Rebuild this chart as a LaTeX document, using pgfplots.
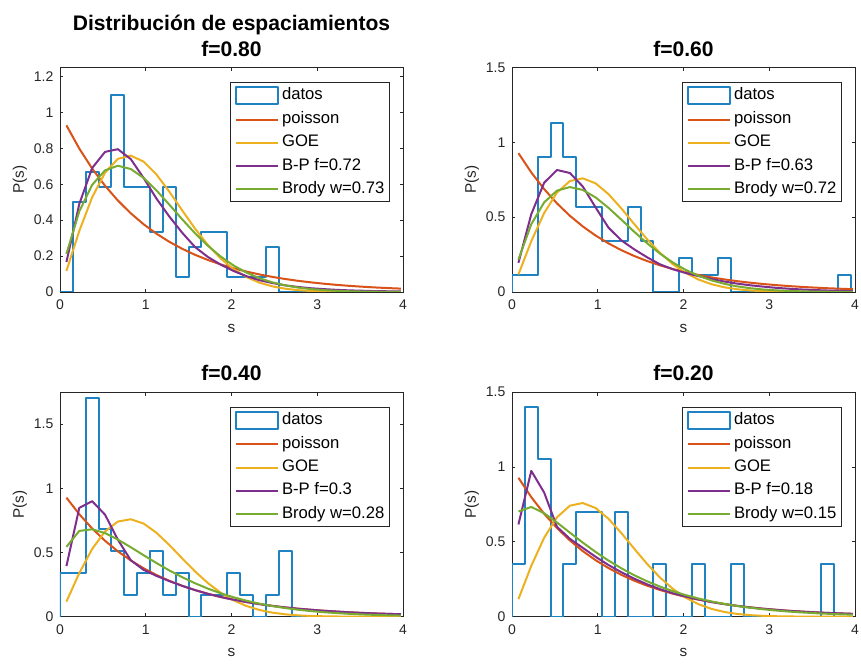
\documentclass[border=0pt]{standalone}
\usepackage{fontspec}
\setmainfont{Liberation Sans}
\usepackage{pgfplots}
\usepackage{pgfplotstable}
\pgfplotsset{compat=1.18}

\definecolor{mblue}{RGB}{30,130,195}
\definecolor{morange}{RGB}{217,83,25}
\definecolor{myellow}{RGB}{237,177,32}
\definecolor{mpurple}{RGB}{126,47,142}
\definecolor{mgreen}{RGB}{119,172,48}
\definecolor{axgray}{RGB}{38,38,38}

% curves evaluated at the bin centres: s, poisson, GOE, B-P, Brody
\pgfplotstableread{
s     poi    goe    bp     brody
0.075 0.9277 0.1173 0.167  0.2121
0.225 0.7985 0.3397 0.49   0.4487
0.375 0.6873 0.5275 0.69   0.5965
0.525 0.5916 0.6641 0.78   0.6771
0.675 0.5092 0.7413 0.795  0.7029
0.825 0.4382 0.7593 0.74   0.6847
0.975 0.3772 0.7259 0.635  0.6353
1.125 0.3247 0.6540 0.52   0.5657
1.275 0.2794 0.5586 0.42   0.4862
1.425 0.2405 0.4543 0.33   0.4047
1.575 0.2070 0.3527 0.25   0.3268
1.725 0.1782 0.2618 0.195  0.2572
1.875 0.1534 0.1862 0.152  0.1970
2.025 0.1320 0.1270 0.117  0.1474
2.175 0.1136 0.0832 0.088  0.1078
2.325 0.0978 0.0523 0.066  0.0771
2.475 0.0842 0.0316 0.050  0.0539
2.625 0.0724 0.0184 0.037  0.0369
2.775 0.0623 0.0103 0.028  0.0248
2.925 0.0537 0.0055 0.021  0.0163
3.075 0.0462 0.0029 0.016  0.0105
3.225 0.0397 0.0014 0.012  0.0067
3.375 0.0342 0.0007 0.009  0.0041
3.525 0.0295 0.0003 0.007  0.0025
3.675 0.0253 0.0001 0.005  0.0015
3.825 0.0218 0.0001 0.004  0.0009
3.975 0.0188 0.0000 0.003  0.0005
}\fa
\pgfplotstableread{
s     poi    goe    bp     brody
0.075 0.9277 0.1173 0.195  0.2167
0.225 0.7985 0.3397 0.52   0.4530
0.375 0.6873 0.5275 0.73   0.5988
0.525 0.5916 0.6641 0.815  0.6772
0.675 0.5092 0.7413 0.795  0.7010
0.825 0.4382 0.7593 0.705  0.6818
0.975 0.3772 0.7259 0.565  0.6319
1.125 0.3247 0.6540 0.43   0.5624
1.275 0.2794 0.5586 0.345  0.4834
1.425 0.2405 0.4543 0.285  0.4025
1.575 0.2070 0.3527 0.232  0.3258
1.725 0.1782 0.2618 0.185  0.2568
1.875 0.1534 0.1862 0.152  0.1972
2.025 0.1320 0.1270 0.127  0.1479
2.175 0.1136 0.0832 0.106  0.1085
2.325 0.0978 0.0523 0.087  0.0778
2.475 0.0842 0.0316 0.070  0.0548
2.625 0.0724 0.0184 0.056  0.0377
2.775 0.0623 0.0103 0.045  0.0255
2.925 0.0537 0.0055 0.036  0.0169
3.075 0.0462 0.0029 0.028  0.0110
3.225 0.0397 0.0014 0.022  0.0070
3.375 0.0342 0.0007 0.017  0.0044
3.525 0.0295 0.0003 0.013  0.0027
3.675 0.0253 0.0001 0.010  0.0017
3.825 0.0218 0.0001 0.008  0.0010
3.975 0.0188 0.0000 0.006  0.0006
}\fb
\pgfplotstableread{
s     poi    goe    bp     brody
0.075 0.9277 0.1173 0.394  0.5438
0.225 0.7985 0.3397 0.848  0.6683
0.375 0.6873 0.5275 0.90   0.6812
0.525 0.5916 0.6641 0.795  0.6513
0.675 0.5092 0.7413 0.60   0.6009
0.825 0.4382 0.7593 0.44   0.5413
0.975 0.3772 0.7259 0.365  0.4790
1.125 0.3247 0.6540 0.318  0.4180
1.275 0.2794 0.5586 0.277  0.3604
1.425 0.2405 0.4543 0.240  0.3077
1.575 0.2070 0.3527 0.207  0.2604
1.725 0.1782 0.2618 0.178  0.2186
1.875 0.1534 0.1862 0.153  0.1821
2.025 0.1320 0.1270 0.132  0.1509
2.175 0.1136 0.0832 0.114  0.1242
2.325 0.0978 0.0523 0.098  0.1017
2.475 0.0842 0.0316 0.084  0.0829
2.625 0.0724 0.0184 0.072  0.0672
2.775 0.0623 0.0103 0.062  0.0542
2.925 0.0537 0.0055 0.054  0.0436
3.075 0.0462 0.0029 0.046  0.0349
3.225 0.0397 0.0014 0.040  0.0278
3.375 0.0342 0.0007 0.034  0.0221
3.525 0.0295 0.0003 0.029  0.0175
3.675 0.0253 0.0001 0.025  0.0138
3.825 0.0218 0.0001 0.022  0.0108
3.975 0.0188 0.0000 0.019  0.0085
}\fc
\pgfplotstableread{
s     poi    goe    bp     brody
0.075 0.9277 0.1173 0.616  0.7024
0.225 0.7985 0.3397 0.974  0.7331
0.375 0.6873 0.5275 0.829  0.6909
0.525 0.5916 0.6641 0.60   0.6289
0.675 0.5092 0.7413 0.52   0.5615
0.825 0.4382 0.7593 0.46   0.4951
0.975 0.3772 0.7259 0.40   0.4324
1.125 0.3247 0.6540 0.345  0.3749
1.275 0.2794 0.5586 0.297  0.3232
1.425 0.2405 0.4543 0.254  0.2770
1.575 0.2070 0.3527 0.216  0.2364
1.725 0.1782 0.2618 0.184  0.2011
1.875 0.1534 0.1862 0.157  0.1704
2.025 0.1320 0.1270 0.134  0.1440
2.175 0.1136 0.0832 0.115  0.1213
2.325 0.0978 0.0523 0.098  0.1019
2.475 0.0842 0.0316 0.084  0.0854
2.625 0.0724 0.0184 0.072  0.0714
2.775 0.0623 0.0103 0.062  0.0597
2.925 0.0537 0.0055 0.053  0.0497
3.075 0.0462 0.0029 0.046  0.0413
3.225 0.0397 0.0014 0.039  0.0343
3.375 0.0342 0.0007 0.034  0.0284
3.525 0.0295 0.0003 0.029  0.0235
3.675 0.0253 0.0001 0.025  0.0194
3.825 0.0218 0.0001 0.022  0.0160
3.975 0.0188 0.0000 0.019  0.0132
}\fd

\tikzset{ttl/.style={anchor=base, font=\bfseries\fontsize{15.8}{19}\selectfont}}

\pgfplotsset{
  mat/.style={
    scale only axis, width=257.25pt, height=168.4pt,
    xmin=0, xmax=4, ymin=0, xtick={0,1,2,3,4},
    tick align=inside, tick pos=both, major tick length=2.6pt,
    axis line style={draw=axgray, line width=0.6pt},
    every tick/.style={draw=axgray, line width=0.6pt},
    tick label style={font=\fontsize{10.5}{12}\selectfont, text=axgray},
    /pgf/number format/assume math mode=true,
    xticklabel style={yshift=-2.5pt},
    yticklabel style={xshift=-1.5pt},
    xlabel={s}, ylabel={P(s)},
    label style={font=\fontsize{11.5}{13}\selectfont, text=axgray},
    xlabel style={at={(axis description cs:0.5,-0.1603)}, anchor=center},
    ylabel style={at={(axis description cs:-0.1166,0.5)}, anchor=center},
    clip mode=individual,
    legend style={at={(axis description cs:0.9606,0.9354)}, anchor=north east,
      draw=axgray, line width=0.6pt, fill=white, inner xsep=3.5pt, inner ysep=3pt,
      row sep=4.9pt, column sep=2.25pt, font=\fontsize{12.5}{15}\selectfont,
      nodes={inner sep=0pt, text height=9.25pt, text depth=3.25pt}, cells={anchor=west}},
    legend image code/.code={\draw[##1] (0pt,0pt) -- (31.5pt,0pt);},
  },
  hist/.style={mblue, line width=1.5pt, line join=round, line cap=round, no marks,
    legend image code/.code={\draw[mblue, line width=1.4pt] (0pt,-6.25pt) rectangle (31.5pt,6.25pt);}},
  cpoi/.style={morange, line width=1.5pt, line join=round, no marks},
  cgoe/.style={myellow, line width=1.5pt, line join=round, no marks},
  cbp/.style={mpurple, line width=1.5pt, line join=round, no marks},
  cbro/.style={mgreen, line width=1.5pt, line join=round, no marks},
}

\begin{document}
\begin{tikzpicture}
\path[use as bounding box] (0,0) rectangle (645.75pt,498pt);

% f = 0.80
\begin{axis}[mat, at={(45pt,279pt)}, anchor=south west, ymax=1.25,
  ytick={0,0.2,0.4,0.6,0.8,1,1.2}]
\addplot[hist] coordinates {(0,0) (0.15,0) (0.15,0.50) (0.30,0.50) (0.30,0.67) (0.45,0.67) (0.45,0.585) (0.60,0.585) (0.60,1.095) (0.75,1.095) (0.75,0.585) (1.05,0.585) (1.05,0.335) (1.20,0.335) (1.20,0.585) (1.35,0.585) (1.35,0.085) (1.50,0.085) (1.50,0.25) (1.65,0.25) (1.65,0.335) (1.95,0.335) (1.95,0.085) (2.40,0.085) (2.40,0.25) (2.55,0.25) (2.55,0) (3.0,0)};
\addlegendentry{datos}
\addplot[cpoi] table[x=s, y=poi] {\fa};
\addlegendentry{poisson}
\addplot[cgoe] table[x=s, y=goe] {\fa};
\addlegendentry{GOE}
\addplot[cbp] table[x=s, y=bp] {\fa};
\addlegendentry{B-P f=0.72}
\addplot[cbro] table[x=s, y=brody] {\fa};
\addlegendentry{Brody w=0.73}
\node[ttl] at (axis description cs:0.5,1.1663) {Distribución de espaciamientos};
\node[ttl] at (axis description cs:0.5,1.0505) {f=0.80};
\end{axis}

% f = 0.60
\begin{axis}[mat, at={(384pt,279pt)}, anchor=south west, ymax=1.5,
  ytick={0,0.5,1,1.5}]
\addplot[hist] coordinates {(0,0) (0,0.113) (0.30,0.113) (0.30,0.905) (0.45,0.905) (0.45,1.131) (0.60,1.131) (0.60,0.905) (0.75,0.905) (0.75,0.566) (1.05,0.566) (1.05,0.339) (1.35,0.339) (1.35,0.566) (1.50,0.566) (1.50,0.339) (1.65,0.339) (1.65,0) (1.95,0) (1.95,0.226) (2.10,0.226) (2.10,0.113) (2.40,0.113) (2.40,0.226) (2.55,0.226) (2.55,0) (3.80,0) (3.80,0.113) (3.95,0.113) (3.95,0)};
\addlegendentry{datos}
\addplot[cpoi] table[x=s, y=poi] {\fb};
\addlegendentry{poisson}
\addplot[cgoe] table[x=s, y=goe] {\fb};
\addlegendentry{GOE}
\addplot[cbp] table[x=s, y=bp] {\fb};
\addlegendentry{B-P f=0.63}
\addplot[cbro] table[x=s, y=brody] {\fb};
\addlegendentry{Brody w=0.72}
\node[ttl] at (axis description cs:0.5,1.0505) {f=0.60};
\end{axis}

% f = 0.40
\begin{axis}[mat, at={(45pt,35.5pt)}, anchor=south west, ymax=1.75,
  ytick={0,0.5,1,1.5}]
\addplot[hist] coordinates {(0,0) (0,0.341) (0.30,0.341) (0.30,1.705) (0.45,1.705) (0.45,0.682) (0.60,0.682) (0.60,0.512) (0.75,0.512) (0.75,0.171) (0.90,0.171) (0.90,0.341) (1.05,0.341) (1.05,0.512) (1.20,0.512) (1.20,0.171) (1.35,0.171) (1.35,0.341) (1.50,0.341) (1.50,0) (1.65,0) (1.65,0.171) (1.95,0.171) (1.95,0.341) (2.10,0.341) (2.10,0.171) (2.25,0.171) (2.25,0) (2.40,0) (2.40,0.171) (2.55,0.171) (2.55,0.512) (2.70,0.512) (2.70,0) (3.0,0)};
\addlegendentry{datos}
\addplot[cpoi] table[x=s, y=poi] {\fc};
\addlegendentry{poisson}
\addplot[cgoe] table[x=s, y=goe] {\fc};
\addlegendentry{GOE}
\addplot[cbp] table[x=s, y=bp] {\fc};
\addlegendentry{B-P f=0.3}
\addplot[cbro] table[x=s, y=brody] {\fc};
\addlegendentry{Brody w=0.28}
\node[ttl] at (axis description cs:0.5,1.0505) {f=0.40};
\end{axis}

% f = 0.20
\begin{axis}[mat, at={(384pt,35.5pt)}, anchor=south west, ymax=1.5,
  ytick={0,0.5,1,1.5}]
\addplot[hist] coordinates {(0,0) (0,0.351) (0.15,0.351) (0.15,1.404) (0.30,1.404) (0.30,1.053) (0.45,1.053) (0.45,0) (0.60,0) (0.60,0.351) (0.75,0.351) (0.75,0.702) (1.05,0.702) (1.05,0) (1.20,0) (1.20,0.702) (1.35,0.702) (1.35,0) (1.65,0) (1.65,0.351) (1.80,0.351) (1.80,0) (2.10,0) (2.10,0.351) (2.25,0.351) (2.25,0) (2.55,0) (2.55,0.351) (2.70,0.351) (2.70,0) (3.60,0) (3.60,0.351) (3.75,0.351) (3.75,0)};
\addlegendentry{datos}
\addplot[cpoi] table[x=s, y=poi] {\fd};
\addlegendentry{poisson}
\addplot[cgoe] table[x=s, y=goe] {\fd};
\addlegendentry{GOE}
\addplot[cbp] table[x=s, y=bp] {\fd};
\addlegendentry{B-P f=0.18}
\addplot[cbro] table[x=s, y=brody] {\fd};
\addlegendentry{Brody w=0.15}
\node[ttl] at (axis description cs:0.5,1.0505) {f=0.20};
\end{axis}
\end{tikzpicture}
\end{document}
